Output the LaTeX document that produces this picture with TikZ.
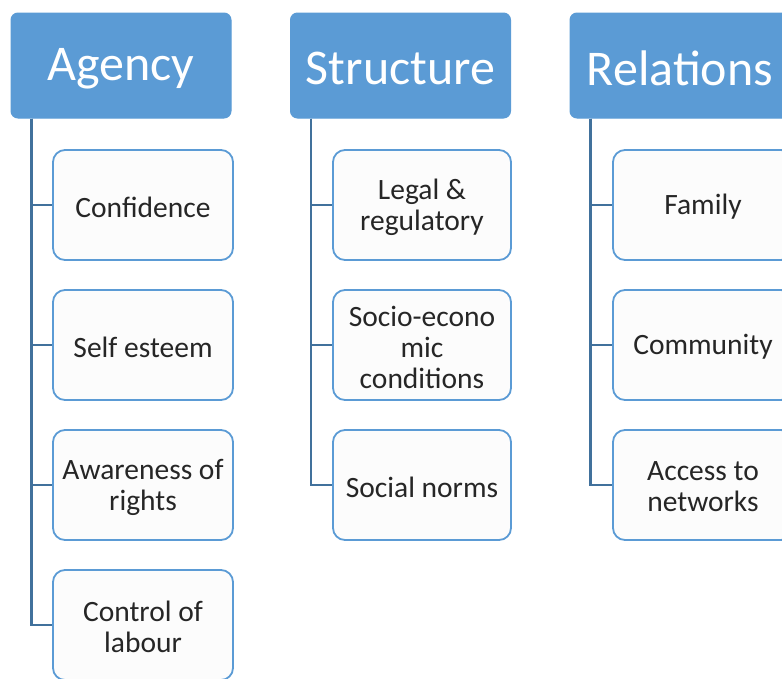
\documentclass[tikz,border=0pt]{standalone}
\usepackage{fontspec}
\setmainfont{Carlito}
\definecolor{hdr}{HTML}{5B9BD5}
\definecolor{lnk}{HTML}{41719C}
\definecolor{boxfill}{HTML}{FCFCFC}
\definecolor{txt}{HTML}{262626}
\begin{document}
\begin{tikzpicture}[x=1pt,y=-1pt,
  header/.style={draw=hdr,fill=hdr,line width=1pt,rounded corners=7pt,minimum width=220pt,minimum height=105pt,inner sep=0pt,text=white,font=\fontsize{50}{52}\selectfont},
  htext/.style={text=white,font=\fontsize{50}{52}\selectfont,inner sep=0pt},
  child/.style={draw=hdr,fill=boxfill,line width=1.8pt,rounded corners=12pt,minimum width=180pt,minimum height=110pt,inner sep=0pt},
  ctext/.style={align=center,text=txt,font=\fontsize{29.5}{31}\selectfont,inner sep=0pt},
  link/.style={draw=lnk,line width=2.4pt}]
\useasboundingbox (0,0) rectangle (782,678);
% headers
\node[header] (hA) at (121,65.5) {};
\node[header] (hS) at (400.5,65.5) {};
\node[header] (hR) at (680,65.5) {};
\node[htext] (hAt) at ([yshift=-3pt]hA.center) {Agency};
\node[htext] (hSt) at ([yshift=-3pt]hS.center) {Structure};
\node[htext] (hRt) at ([yshift=-3pt]hR.center) {Relations};
% Agency children
\node[child] (a1) at (143,205) {};
\node[child] (a2) at (143,345) {};
\node[child] (a3) at (143,485) {};
\node[child] (a4) at (143,625) {};
% Structure children
\node[child,minimum width=178pt] (s1) at (422,205) {};
\node[child,minimum width=178pt] (s2) at (422,345) {};
\node[child,minimum width=178pt] (s3) at (422,485) {};
% Relations children
\node[child] (r1) at (703,205) {};
\node[child] (r2) at (703,345) {};
\node[child] (r3) at (703,485) {};
% texts
\node[ctext] (a1t) at ([yshift=-2pt]a1.center) {Confidence};
\node[ctext] (a2t) at ([yshift=-2pt]a2.center) {Self esteem};
\node[ctext] (a3t) at ([yshift=-2pt]a3.center) {Awareness of\\rights};
\node[ctext] (a4t) at ([yshift=-2pt]a4.center) {Control of\\labour};
\node[ctext] (s1t) at ([yshift=-2pt]s1.center) {Legal \&\\regulatory};
\node[ctext] (s2t) at ([yshift=-2pt]s2.center) {Socio-econo\\mic\\conditions};
\node[ctext] (s3t) at ([yshift=-2pt]s3.center) {Social norms};
\node[ctext] (r1t) at ([yshift=-2pt]r1.center) {Family};
\node[ctext] (r2t) at ([yshift=-2pt]r2.center) {Community};
\node[ctext] (r3t) at ([yshift=-2pt]r3.center) {Access to\\networks};
% connectors
\coordinate (tA) at ([xshift=21pt]hA.south west);
\coordinate (tS) at ([xshift=21pt]hS.south west);
\coordinate (tR) at ([xshift=21pt]hR.south west);
\draw[link] (tA) |- (a4.west);
\draw[link] (tA) |- (a1.west);
\draw[link] (tA) |- (a2.west);
\draw[link] (tA) |- (a3.west);
\draw[link] (tS) |- (s3.west);
\draw[link] (tS) |- (s1.west);
\draw[link] (tS) |- (s2.west);
\draw[link] (tR) |- (r3.west);
\draw[link] (tR) |- (r1.west);
\draw[link] (tR) |- (r2.west);
\end{tikzpicture}
\end{document}
